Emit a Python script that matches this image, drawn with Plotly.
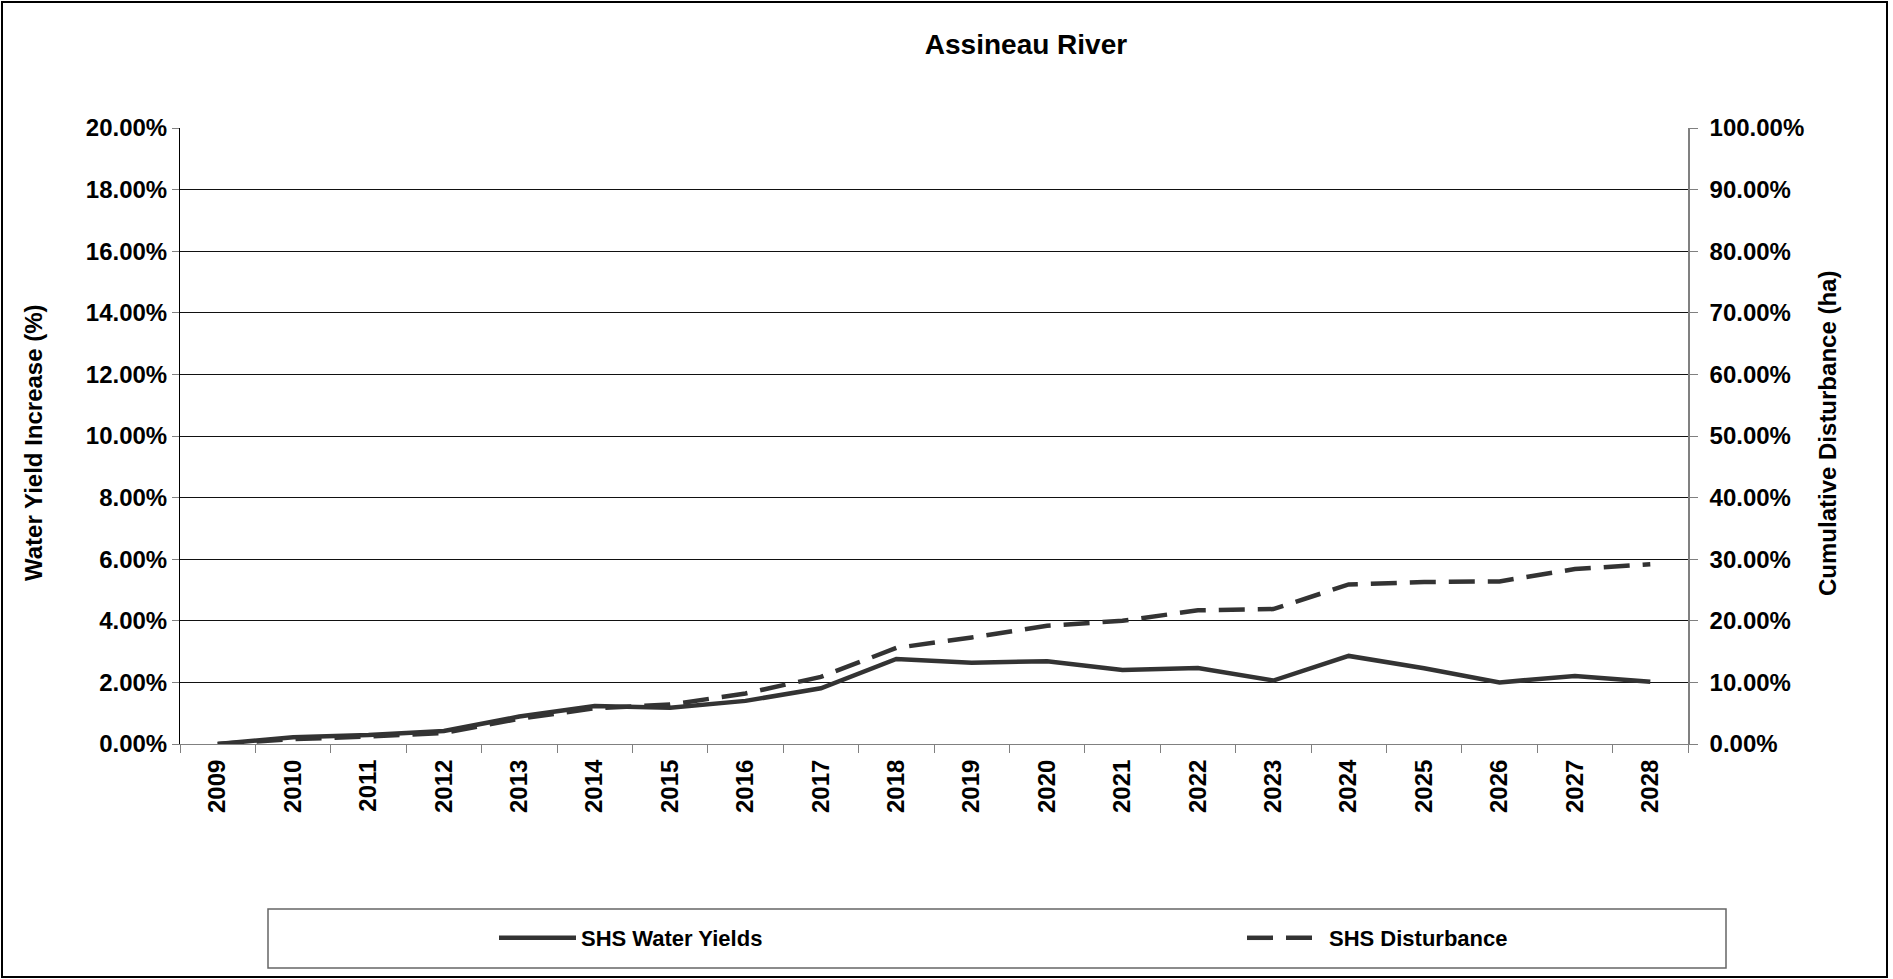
import plotly.graph_objects as go

# ---- data ----
years = [str(y) for y in range(2009, 2029)]
water_yields = [0.0, 0.22, 0.29, 0.42, 0.89, 1.23, 1.18, 1.40, 1.81, 2.76,
                2.64, 2.69, 2.40, 2.47, 2.06, 2.86, 2.46, 2.00, 2.21, 2.02]  # %
disturbance = [0.0, 0.8, 1.2, 1.8, 4.1, 5.8, 6.4, 8.2, 10.9, 15.6,
               17.3, 19.2, 20.0, 21.7, 21.9, 25.9, 26.3, 26.4, 28.4, 29.2]  # %

wy_frac = [v / 100 for v in water_yields]
dist_frac = [v / 100 for v in disturbance]

W, H = 1893, 979
L, R, T, B = 180, 1688, 128, 744
FONT = "Liberation Sans, Arial, sans-serif"
LINE = "#333333"


def px2x(px):
    return (px - L) / (R - L)


def py2y(py):
    return (B - py) / (B - T)


fig = go.Figure()
fig.add_trace(go.Scatter(
    x=years, y=wy_frac, name="SHS Water Yields", mode="lines",
    line=dict(color=LINE, width=4.5), yaxis="y", legend="legend",
))
fig.add_trace(go.Scatter(
    x=years, y=dist_frac, name="SHS Disturbance", mode="lines",
    line=dict(color=LINE, width=4.5, dash="26px,13px"), yaxis="y2", legend="legend2",
))

fig.update_layout(
    width=W, height=H,
    margin=dict(l=L, r=W - R, t=T, b=H - B, pad=0),
    paper_bgcolor="white", plot_bgcolor="white",
    font=dict(family=FONT, size=24, color="black", weight="bold"),
    title=dict(text="Assineau River", x=px2x(1026), xref="paper", xanchor="center",
               y=1 - 44 / H, yref="container", yanchor="middle",
               font=dict(size=28, family=FONT, color="black", weight="bold")),
    xaxis=dict(type="category", range=[-0.5, 19.5], tickangle=-90,
               ticks="outside", ticklen=8, tickcolor="#808080", tickson="boundaries",
               showline=True, linecolor="#808080", linewidth=1, showgrid=False,
               tickfont=dict(size=24), ticklabelstandoff=5, fixedrange=True),
    yaxis=dict(range=[0, 0.20], dtick=0.02, tickformat=".2%",
               ticks="outside", ticklen=7, tickcolor="#808080",
               showline=True, linecolor="black", linewidth=1,
               showgrid=True, gridcolor="#111111", gridwidth=1,
               zeroline=False, tickfont=dict(size=24)),
    yaxis2=dict(range=[0, 1.0], dtick=0.1, tickformat=".2%", overlaying="y", side="right",
                ticks="outside", ticklen=8, tickcolor="#808080",
                showline=True, linecolor="#808080", linewidth=1.5,
                showgrid=False, zeroline=False, tickfont=dict(size=24),
                ticklabelstandoff=7),
    legend=dict(orientation="h", x=px2x(494), y=py2y(938), xanchor="left", yanchor="middle",
                xref="paper", yref="paper", itemwidth=77, bgcolor="rgba(0,0,0,0)",
                font=dict(size=22, family=FONT, weight="bold")),
    legend2=dict(orientation="h", x=px2x(1242), y=py2y(938), xanchor="left", yanchor="middle",
                 xref="paper", yref="paper", itemwidth=77, bgcolor="rgba(0,0,0,0)",
                 font=dict(size=22, family=FONT, weight="bold")),
    showlegend=True,
)

# axis titles
fig.add_annotation(text="Water Yield Increase (%)", x=px2x(33), y=py2y(443),
                   xref="paper", yref="paper", textangle=-90, showarrow=False,
                   xanchor="center", yanchor="middle",
                   font=dict(size=24, family=FONT, weight="bold"))
fig.add_annotation(text="Cumulative Disturbance (ha)", x=px2x(1827), y=py2y(434),
                   xref="paper", yref="paper", textangle=-90, showarrow=False,
                   xanchor="center", yanchor="middle",
                   font=dict(size=24, family=FONT, weight="bold"))

# outer chart border and legend box
fig.add_shape(type="rect", xref="paper", yref="paper",
              x0=px2x(2), x1=px2x(1887), y0=py2y(977), y1=py2y(2),
              line=dict(color="black", width=2), fillcolor="rgba(0,0,0,0)", layer="above")
fig.add_shape(type="rect", xref="paper", yref="paper",
              x0=px2x(268), x1=px2x(1726), y0=py2y(968), y1=py2y(909),
              line=dict(color="#666666", width=1.5), fillcolor="rgba(0,0,0,0)", layer="above")

fig.write_html("out.html", config={"displayModeBar": False},
               post_script="document.body.style.margin='0';")
